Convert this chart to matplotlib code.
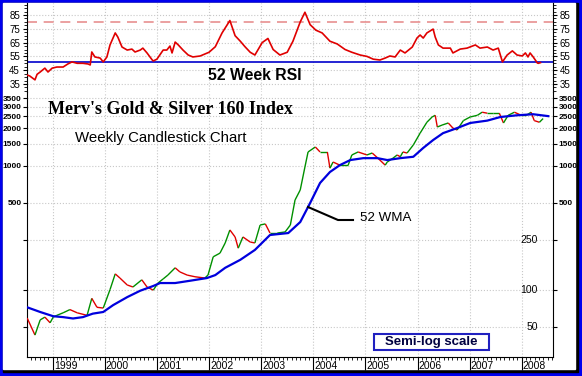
import numpy as np
import matplotlib.pyplot as plt
from matplotlib.patches import Rectangle
from matplotlib.lines import Line2D
from matplotlib.collections import LineCollection
from matplotlib.ticker import MultipleLocator, NullLocator
import matplotlib.transforms as mtransforms

plt.rcParams['font.family'] = ['Liberation Sans', 'DejaVu Sans']

# index closes (decimal year, value)
price_years = [1998.51, 1998.66, 1998.76, 1998.85, 1998.95, 1999.01, 1999.08, 1999.20,
               1999.33, 1999.47, 1999.66, 1999.75, 1999.85, 1999.97, 2000.10, 2000.20,
               2000.29, 2000.43, 2000.54, 2000.71, 2000.81, 2000.93, 2001.02, 2001.12,
               2001.21, 2001.35, 2001.44, 2001.58, 2001.73, 2001.92, 2001.98, 2002.08,
               2002.21, 2002.31, 2002.40, 2002.50, 2002.56, 2002.65, 2002.79, 2002.88,
               2002.98, 2003.08, 2003.17, 2003.31, 2003.46, 2003.56, 2003.65, 2003.75,
               2003.84, 2003.90, 2004.04, 2004.13, 2004.27, 2004.32, 2004.38, 2004.51,
               2004.67, 2004.74, 2004.86, 2005.03, 2005.13, 2005.24, 2005.38, 2005.42,
               2005.53, 2005.61, 2005.67, 2005.72, 2005.80, 2005.92, 2006.05, 2006.18,
               2006.28, 2006.34, 2006.38, 2006.47, 2006.59, 2006.68, 2006.76, 2006.88,
               2007.01, 2007.15, 2007.24, 2007.34, 2007.45, 2007.57, 2007.65, 2007.74,
               2007.86, 2007.99, 2008.09, 2008.18, 2008.24, 2008.34, 2008.41]
price_values = [59, 43, 57, 60, 54, 60, 62, 65,
                69, 65, 62, 85, 72, 71, 100, 134,
                124, 109, 105, 120, 105, 99, 113, 122,
                131, 150, 139, 131, 127, 124, 131, 184,
                197, 238, 303, 266, 216, 266, 242, 238,
                332, 339, 286, 286, 292, 332, 528, 637,
                976, 1290, 1415, 1290, 1290, 955, 1070, 1010,
                1010, 1220, 1290, 1220, 1265, 1150, 1010, 1070,
                1150, 1220, 1180, 1290, 1265, 1470, 1830, 2240,
                2470, 2550, 2050, 2125, 2210, 2010, 1940, 2310,
                2470, 2550, 2700, 2650, 2650, 2650, 2210, 2550,
                2700, 2550, 2550, 2700, 2310, 2240, 2400]

# 52 week weighted moving average
wma_years = [1998.51, 1998.76, 1999.01, 1999.20, 1999.39, 1999.58, 1999.77, 1999.97,
             2000.16, 2000.43, 2000.68, 2000.93, 2001.06, 2001.35, 2001.64, 2001.96,
             2002.12, 2002.31, 2002.60, 2002.88, 2003.17, 2003.52, 2003.75, 2003.94,
             2004.13, 2004.32, 2004.51, 2004.71, 2004.96, 2005.23, 2005.42, 2005.67,
             2005.92, 2006.11, 2006.30, 2006.49, 2006.76, 2007.01, 2007.34, 2007.59,
             2007.91, 2008.22, 2008.51]
wma_values = [72, 66, 61, 60, 58.5, 60, 64, 66,
              75, 87, 98, 107, 113, 113, 118, 124,
              131, 150, 174, 209, 276, 286, 351, 500,
              725, 889, 1010, 1110, 1150, 1150, 1110, 1150,
              1180, 1390, 1610, 1830, 2010, 2210, 2310, 2470,
              2550, 2600, 2510]

# 52 week RSI
rsi_years = [1998.51, 1998.56, 1998.66, 1998.70, 1998.76, 1998.85, 1998.91, 1998.99,
             1999.08, 1999.20, 1999.29, 1999.37, 1999.47, 1999.58, 1999.68, 1999.72,
             1999.75, 1999.81, 1999.91, 1999.97, 2000.04, 2000.10, 2000.20, 2000.25,
             2000.33, 2000.43, 2000.52, 2000.58, 2000.68, 2000.73, 2000.81, 2000.91,
             2000.93, 2001.00, 2001.12, 2001.19, 2001.25, 2001.29, 2001.35, 2001.41,
             2001.50, 2001.60, 2001.69, 2001.83, 2002.00, 2002.12, 2002.25, 2002.40,
             2002.50, 2002.60, 2002.69, 2002.79, 2002.88, 2003.02, 2003.13, 2003.23,
             2003.36, 2003.50, 2003.61, 2003.75, 2003.84, 2003.94, 2004.05, 2004.17,
             2004.32, 2004.46, 2004.61, 2004.74, 2004.90, 2005.03, 2005.15, 2005.28,
             2005.38, 2005.47, 2005.57, 2005.67, 2005.76, 2005.90, 2005.99, 2006.05,
             2006.11, 2006.18, 2006.30, 2006.34, 2006.40, 2006.49, 2006.63, 2006.68,
             2006.82, 2006.95, 2007.11, 2007.20, 2007.34, 2007.45, 2007.55, 2007.63,
             2007.72, 2007.82, 2007.91, 2008.01, 2008.07, 2008.12, 2008.16, 2008.22,
             2008.30, 2008.32, 2008.36]
rsi_values = [41.5, 40.8, 38, 42, 43.7, 46.5, 43.7, 46.5,
              47.3, 47.3, 49.5, 51, 50, 50, 49.5, 48.8,
              58.2, 54.6, 53.8, 51, 54.6, 63.3, 72, 69,
              61.8, 59.6, 60.3, 58.2, 59.6, 61, 57.5, 52.4,
              51.7, 53, 59.6, 59.6, 62.5, 57.5, 65.4, 63.3,
              59.6, 56, 54.6, 55.3, 58, 62, 72, 81,
              70, 66, 62, 58, 56, 65, 68, 60,
              56, 58, 66, 80, 87, 78, 74, 72,
              66, 64, 60, 58, 56, 55, 53, 52.4,
              53.8, 55.3, 54.6, 59.6, 57.5, 61.8, 68.3, 70.5,
              68.3, 72, 74.8, 69, 63.3, 61, 61, 57.5,
              60.3, 61, 63.3, 61, 61.8, 59.6, 61, 51,
              56, 59, 56, 55.3, 57.5, 54.6, 57.5, 54.6,
              50.2, 50, 50.5]
rsi_mid = 51
rsi_high = 80

year_labels = list(range(1999, 2009))
price_ticks = [3500, 3000, 2500, 2000, 1500, 1000, 500, 250, 100, 50]
rsi_ticks = [35, 45, 55, 65, 75, 85]

W, H = 582, 376
BLUE = '#0000ee'


def box(x0, y0, x1, y1):
    # pixel box (from top-left) -> figure fraction rect
    return [x0 / W, 1 - y1 / H, (x1 - x0) / W, (y1 - y0) / H]


fig = plt.figure(figsize=(W / 100, H / 100), dpi=100, facecolor=BLUE)
fig.patches.append(Rectangle((3 / W, 1 - 372 / H), 575 / W, 369 / H,
                             transform=fig.transFigure, color='black', zorder=-3))
fig.patches.append(Rectangle((3 / W, 1 - 369 / H), 572 / W, 366 / H,
                             transform=fig.transFigure, color='white', zorder=-2))

xmin, xmax = 1998.507, 2008.60

# --- RSI panel ---
ax_r = fig.add_axes(box(27, 3, 553, 92))
ax_r.set_facecolor('none')
ax_r.plot(rsi_years, rsi_values, color='#e00000', lw=1.2, zorder=3)
ax_r.axhline(rsi_mid, color='#0000cc', lw=1.2, zorder=2)
ax_r.axhline(rsi_high, color='#e89090', lw=1.2, dashes=(6, 4), zorder=2)
ax_r.set_xlim(xmin, xmax)
ax_r.set_ylim(29.2, 93.7)
ax_r.set_yticks(rsi_ticks)
ax_r.yaxis.set_minor_locator(MultipleLocator(2.5))
ax_r.set_xticks(year_labels)
ax_r.tick_params(axis='x', length=0, labelbottom=False)
ax_r.tick_params(axis='y', which='both', left=True, right=True, labelleft=True,
                 labelright=True, direction='out', labelsize=7, pad=2)
ax_r.tick_params(axis='y', which='major', length=3)
ax_r.tick_params(axis='y', which='minor', length=2)
ax_r.grid(True, color='#c8c8c8', linestyle=':', linewidth=0.8)
for s in ('top', 'bottom'):
    ax_r.spines[s].set_visible(False)

# --- price panel ---
ax = fig.add_axes(box(27, 92, 553, 357))
ax.set_facecolor('none')
ax.set_yscale('log')
pts = np.column_stack([price_years, price_values])
segs = np.stack([pts[:-1], pts[1:]], axis=1)
cols = ['#009000' if b >= a else '#e00000' for a, b in zip(price_values[:-1], price_values[1:])]
ax.add_collection(LineCollection(segs, colors=cols, linewidths=1.0, zorder=3))
ax.plot(wma_years, wma_values, color='#0000dd', lw=1.6, zorder=4)
ax.set_xlim(xmin, xmax)
ax.set_ylim(28.6, 3930)
ax.set_yticks(price_ticks)
ax.set_yticklabels([str(v) if v >= 500 else '' for v in price_ticks])
ax.yaxis.set_minor_locator(NullLocator())
ax.tick_params(axis='y', left=True, right=True, labelleft=True, labelright=True,
               direction='out', length=3, labelsize=6, pad=1)
for lab in ax.yaxis.get_ticklabels(which='major') + ax.yaxis.get_ticklabels(which='major', minor=False):
    lab.set_fontweight('bold')
for t in ax.yaxis.get_major_ticks():
    t.label2.set_fontweight('bold')
ax.set_xticks(year_labels)
ax.xaxis.set_minor_locator(MultipleLocator(1 / 12))
ax.tick_params(axis='x', which='major', length=9.5, direction='out', labelbottom=False)
ax.tick_params(axis='x', which='minor', length=2.2, direction='out')
ax.grid(True, which='major', color='#c8c8c8', linestyle=':', linewidth=0.8)
ax.spines['top'].set_visible(False)

for yr in year_labels:
    ax.text(yr + 0.02, -0.033, str(yr), transform=ax.get_xaxis_transform(),
            ha='left', va='center', fontsize=7.5)

inner = mtransforms.blended_transform_factory(ax.transAxes, ax.transData)
for v in (250, 100, 50):
    ax.text(0.9715, v, str(v), transform=inner, ha='right', va='center',
            fontsize=7.5, zorder=5)

# --- texts ---
fig.text(48 / W, 1 - 109 / H, "Merv's Gold & Silver 160 Index", family='Liberation Serif',
         fontweight='bold', fontsize=13, ha='left', va='center')
fig.text(75 / W, 1 - 138 / H, 'Weekly Candlestick Chart', fontsize=10.8,
         ha='left', va='center')
fig.text(208 / W, 1 - 75 / H, '52 Week RSI', fontweight='bold', fontsize=11.3,
         ha='left', va='center')
fig.text(360 / W, 1 - 218 / H, '52 WMA', fontsize=9.6, ha='left', va='center')
fig.add_artist(Line2D([308 / W, 338 / W, 353 / W], [1 - 207 / H, 1 - 220 / H, 1 - 220 / H],
                      color='black', lw=1.5))

fig.patches.append(Rectangle((374 / W, 1 - 350 / H), 115 / W, 16 / H, transform=fig.transFigure,
                             facecolor='white', edgecolor='#2020c0', lw=1.5, zorder=5))
fig.text(431 / W, 1 - 342 / H, 'Semi-log scale', fontweight='bold', fontsize=9.5,
         color='#000040', ha='center', va='center', zorder=6)

fig.savefig('out.png', dpi=100, facecolor=BLUE)
